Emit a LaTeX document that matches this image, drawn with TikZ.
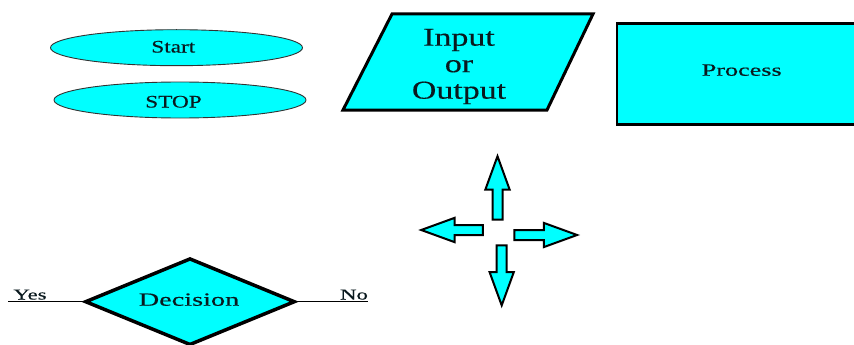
\documentclass[tikz,border=0pt]{standalone}
\usepackage{fontspec}
\setmainfont{Liberation Serif}
\newfontfamily\termfont{Liberation Serif}[FakeStretch=1.32, FakeBold=0.4]
\newfontfamily\widefont{Liberation Serif}[FakeStretch=1.52, FakeBold=0.4]
\usepackage{tikz}
\usetikzlibrary{positioning, shapes.geometric, shapes.arrows}
\definecolor{symfill}{RGB}{0,255,255}
\definecolor{symline}{RGB}{0,0,0}
\definecolor{termline}{RGB}{50,50,50}
\definecolor{labeltext}{RGB}{10,25,30}

\tikzset{
  terminal/.style={ellipse, fill=symfill, draw=termline, line width=0.9pt,
    minimum width=252, minimum height=36, inner sep=0pt},
  termtext/.style={anchor=base, inner sep=0pt, text=labeltext,
    font=\termfont\fontsize{17.6}{19}\selectfont},
  processbox/.style={rectangle, fill=symfill, draw=symline, line width=2.5pt,
    minimum width=252, minimum height=101, inner sep=0pt},
  decisionbox/.style={diamond, aspect=2.4, fill=symfill, draw=symline,
    line width=3.5pt, minimum width=210, minimum height=87, inner sep=0pt},
  widetext/.style={anchor=base, inner sep=0pt, text=labeltext,
    font=\widefont\fontsize{#1}{20}\selectfont},
  blockarrow/.style={single arrow, fill=symfill, draw=symline, line width=2pt,
    minimum width=21, inner sep=4pt, anchor=tip,
    single arrow tip angle=40, single arrow head indent=0pt},
  branchline/.style={line width=0.8pt}
}

\begin{document}
\begin{tikzpicture}[x=1pt, y=-1pt]
    \useasboundingbox (0,0) rectangle (854,345);
    \clip (0,0) rectangle (854,345);

    % terminals
    \node[terminal] (start) at (176.5,47.7) {};
    \node[termtext] (starttext) at (173.3,52.5) {Start};
    \node[terminal] (stop) at (180,100) {};
    \node[termtext] (stoptext) at (173.5,107.5) {STOP};

    % input / output
    \draw[fill=symfill, draw=symline, line width=3pt, line join=miter]
      (392,14) -- (593,14) -- (547,110) -- (343,110) -- cycle;
    \node[align=center, inner sep=0pt, text=labeltext,
      font=\termfont\fontsize{25.7}{26.5}\selectfont]
      (inout) at (459,66.5) {Input\\or\\Output};

    % process
    \node[processbox] (process) at (743,74.2) {};
    \node[widetext=17.2] (processtext) at (741.7,75.7) {Process};

    % flow directions
    \node[blockarrow, shape border rotate=90, minimum height=63.4] (up) at (497.5,153.3) {};
    \node[blockarrow, shape border rotate=180, minimum height=61.7] (left) at (418.3,230) {};
    \node[blockarrow, shape border rotate=0, minimum height=62.7] (right) at (580,235) {};
    \node[blockarrow, shape border rotate=270, minimum height=60] (down) at (501.7,308.3) {};

    % decision
    \node[decisionbox] (decision) at (190,301.7) {};
    \node[widetext=18.6] (decisiontext) at (189,305.7) {Decision};
    \coordinate (yesend) at (8,301.7);
    \coordinate (noend) at (368,301.7);
    \draw[branchline] (yesend) -- (decision.west);
    \draw[branchline] (decision.east) -- (noend);
    \node[widetext=15] (yes) at (30,299.5) {Yes};
    \node[widetext=15] (no) at (354,299.5) {No};
\end{tikzpicture}
\end{document}
